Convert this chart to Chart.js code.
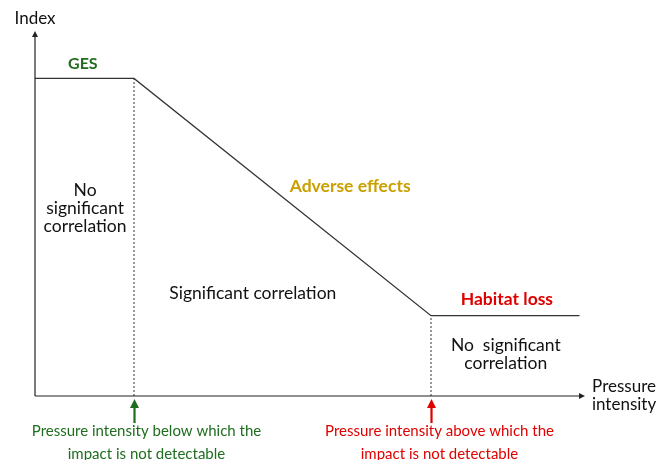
<!DOCTYPE html>
<html>
<head>
<meta charset="utf-8">
<script src="https://cdn.jsdelivr.net/npm/chart.js@4.4.1/dist/chart.umd.min.js"></script>
<style>
  html, body { margin: 0; padding: 0; background: #fff; }
  #chart { display: block; }
</style>
</head>
<body>
<canvas id="chart" width="672" height="460"></canvas>
<script>
/* -------------------------
   DATA (conceptual units)
------------------------- */
const responseX = [0, 18, 72, 99];
const responseY = [87, 87, 22, 22];
const lowThreshold = 18;   // below: impact not detectable
const highThreshold = 72;  // above: impact not detectable
const gesLevel = 87;
const lossLevel = 22;

const FONT = "Lato, 'Open Sans', sans-serif";
const GREEN = "#1f6e1f";
const RED = "#e00000";
const GOLD = "#c9a000";

// text labels, placed in data units
const labels = [
  { text: ["Index"], x: 0, y: 103.5, color: "#111", bold: false, size: 17 },
  { text: ["GES"], x: 8.7, y: 91, color: GREEN, bold: true, size: 16 },
  { text: ["No", "significant", "correlation"], x: 9.1, y: 51.5, color: "#111", bold: false, size: 17.5, lh: 18 },
  { text: ["Adverse effects"], x: 57.3, y: 57.5, color: GOLD, bold: true, size: 17.5 },
  { text: ["Significant correlation"], x: 39.6, y: 28.2, color: "#111", bold: false, size: 17.5 },
  { text: ["Habitat loss"], x: 85.8, y: 26.6, color: RED, bold: true, size: 17.5 },
  { text: ["No  significant", "correlation"], x: 85.6, y: 11.5, color: "#111", bold: false, size: 17.5, lh: 18 },
  { text: ["Pressure", "intensity"], x: 107.1, y: 0, color: "#111", bold: false, size: 17, lh: 18 }
];
const thresholdNotes = [
  { text: ["Pressure intensity below which the", "impact is not detectable"], x: lowThreshold, dx: 12, color: GREEN },
  { text: ["Pressure intensity above which the", "impact is not detectable"], x: highThreshold, dx: 8, color: RED }
];

/* -------------------------
   DRAWING HELPERS
------------------------- */
function arrowLine(ctx, x1, y1, x2, y2, color, width, head) {
  const ang = Math.atan2(y2 - y1, x2 - x1);
  ctx.save();
  ctx.strokeStyle = color;
  ctx.fillStyle = color;
  ctx.lineWidth = width;
  ctx.beginPath();
  ctx.moveTo(x1, y1);
  ctx.lineTo(x2 - Math.cos(ang) * head * 0.8, y2 - Math.sin(ang) * head * 0.8);
  ctx.stroke();
  ctx.beginPath();
  ctx.moveTo(x2, y2);
  ctx.lineTo(x2 - head * Math.cos(ang) + head * 0.5 * Math.sin(ang), y2 - head * Math.sin(ang) - head * 0.5 * Math.cos(ang));
  ctx.lineTo(x2 - head * Math.cos(ang) - head * 0.5 * Math.sin(ang), y2 - head * Math.sin(ang) + head * 0.5 * Math.cos(ang));
  ctx.closePath();
  ctx.fill();
  ctx.restore();
}

const diagramPlugin = {
  id: "diagram",
  afterDatasetsDraw(chart) {
    const { ctx, chartArea: a, scales: { x, y } } = chart;

    // axes with arrow heads
    arrowLine(ctx, a.left, a.bottom, a.left, a.top, "#222", 1.2, 6);
    arrowLine(ctx, a.left, a.bottom, a.right, a.bottom, "#222", 1.2, 6);

    // threshold arrows + notes
    thresholdNotes.forEach(n => {
      const px = Math.round(x.getPixelForValue(n.x)) + 0.5;
      arrowLine(ctx, px, a.bottom + 27, px, a.bottom + 3, n.color, 2.2, 9);
      ctx.save();
      ctx.fillStyle = n.color;
      ctx.font = "15px " + FONT;
      ctx.textAlign = "center";
      ctx.textBaseline = "middle";
      n.text.forEach((t, i) => ctx.fillText(t, px + n.dx, a.bottom + 35 + i * 23));
      ctx.restore();
    });

    // text labels
    labels.forEach(l => {
      const px = x.getPixelForValue(l.x);
      const py = y.getPixelForValue(l.y);
      const lh = l.lh || 18;
      ctx.save();
      ctx.fillStyle = l.color;
      ctx.font = (l.bold ? "bold " : "") + l.size + "px " + FONT;
      ctx.textAlign = "center";
      ctx.textBaseline = "middle";
      const y0 = py - (l.text.length - 1) * lh / 2;
      l.text.forEach((t, i) => ctx.fillText(t, px, y0 + i * lh));
      ctx.restore();
    });
  }
};

/* -------------------------
   CHART
------------------------- */
const ctx = document.getElementById("chart").getContext("2d");

new Chart(ctx, {
  type: "scatter",
  data: {
    datasets: [
      {
        label: "Index",
        data: responseX.map((v, i) => ({ x: v, y: responseY[i] })),
        showLine: true,
        borderColor: "#333",
        borderWidth: 1.3,
        pointRadius: 0,
        tension: 0
      },
      {
        label: "low threshold",
        data: [{ x: lowThreshold, y: 0 }, { x: lowThreshold, y: gesLevel }],
        showLine: true,
        borderColor: "#333",
        borderWidth: 1,
        borderDash: [2, 2],
        pointRadius: 0
      },
      {
        label: "high threshold",
        data: [{ x: highThreshold, y: 0 }, { x: highThreshold, y: lossLevel }],
        showLine: true,
        borderColor: "#333",
        borderWidth: 1,
        borderDash: [2, 2],
        pointRadius: 0
      }
    ]
  },
  options: {
    responsive: false,
    animation: false,
    layout: { padding: { left: 35, top: 31, right: 87, bottom: 64 } },
    scales: {
      x: { type: "linear", min: 0, max: 100, display: false },
      y: { type: "linear", min: 0, max: 100, display: false }
    },
    plugins: {
      legend: { display: false },
      tooltip: { enabled: false }
    }
  },
  plugins: [diagramPlugin]
});
</script>
</body>
</html>
